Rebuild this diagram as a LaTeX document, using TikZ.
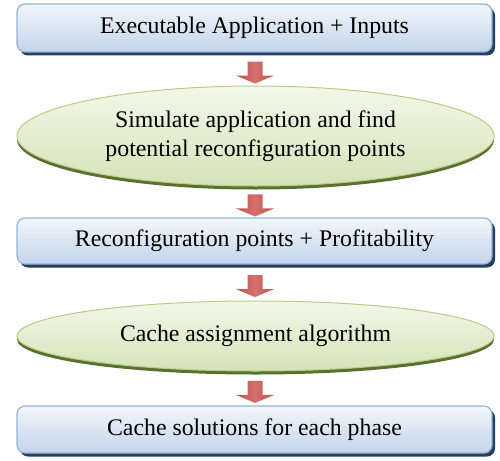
\documentclass[tikz,border=0pt]{standalone}
\usepackage{fontspec}
\setmainfont{Liberation Serif}
\newfontfamily\diagfont{Liberation Serif}
\usetikzlibrary{shapes.geometric,calc}
\definecolor{boxtop}{HTML}{F2F6FB}
\definecolor{boxbot}{HTML}{C3D4EA}
\definecolor{boxline}{HTML}{95B3D7}
\definecolor{boxshadow}{HTML}{243F60}
\definecolor{elltop}{HTML}{F3F7EA}
\definecolor{ellbot}{HTML}{D5E3B8}
\definecolor{ellline}{HTML}{B5CD85}
\definecolor{ellshadow}{HTML}{5A7030}
\definecolor{arrred}{HTML}{C0504D}
\definecolor{arrlight}{HTML}{D3706D}
\tikzset{
  x=1pt, y=-1pt,
  txt/.style={font=\diagfont\fontsize{23.8}{29}\selectfont, text=black, align=center},
  stepbox/.style={txt, rectangle, rounded corners=8pt, draw=boxline, line width=1.2pt,
    top color=boxtop, bottom color=boxbot, minimum width=475pt, minimum height=48pt,
    preaction={fill=boxshadow, transform canvas={xshift=3pt, yshift=-3.5pt}}},
  stepell/.style={txt, ellipse, draw=ellline, line width=1pt, inner sep=0pt,
    top color=elltop, bottom color=ellbot, minimum width=477pt,
    preaction={fill=ellshadow, transform canvas={yshift=-3.5pt}}},
  blockarrow/.style={draw=none, left color=arrred, right color=arrred, middle color=arrlight}
}
\newcommand{\flowarrow}[2]{%
  \path (#1.south) -- (#2.north) coordinate[midway] (m#1#2);
  \path[blockarrow] ($(m#1#2)+(-7.5,-7.5)$) -- ($(m#1#2)+(7.5,-7.5)$) -- ($(m#1#2)+(7.5,6.5)$)
    -- ($(m#1#2)+(19,6.5)$) -- ($(m#1#2)+(0,14.5)$) -- ($(m#1#2)+(-19,6.5)$)
    -- ($(m#1#2)+(-7.5,6.5)$) -- cycle;
}
\begin{document}
\begin{tikzpicture}
\useasboundingbox (0,0) rectangle (500,460);
\node[stepbox] (b1) at (254.5,28) {Executable Application + Inputs};
\node[stepell, minimum height=100pt] (e1) at (255.5,136) {Simulate application and find\\potential reconfiguration points};
\node[stepbox, minimum height=46pt] (b2) at (254.5,241) {Reconfiguration points + Profitability};
\node[stepell, minimum height=70pt] (e2) at (255.5,336) {Cache assignment algorithm};
\node[stepbox, minimum height=47pt] (b3) at (254.5,429.5) {Cache solutions for each phase};
\flowarrow{b1}{e1}
\flowarrow{e1}{b2}
\flowarrow{b2}{e2}
\flowarrow{e2}{b3}
\end{tikzpicture}
\end{document}
